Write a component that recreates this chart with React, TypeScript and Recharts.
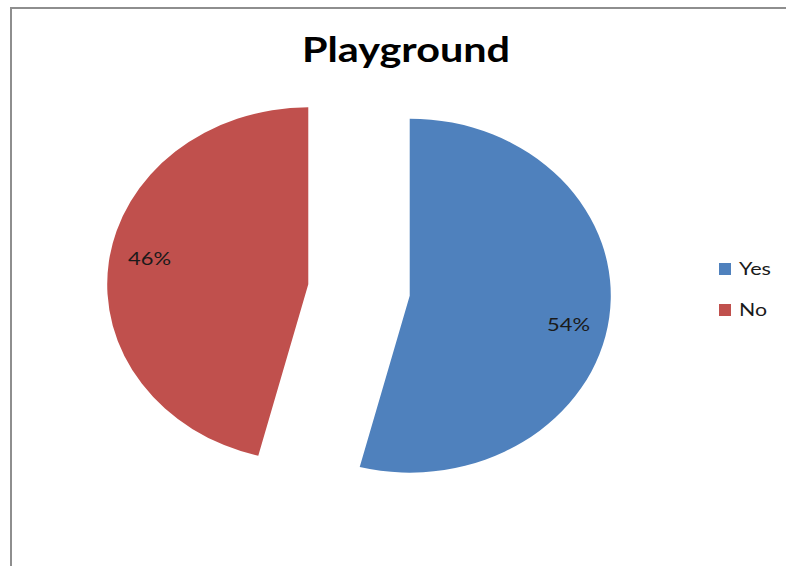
import React from 'react';
import { PieChart, Pie, Cell, Legend } from 'recharts';

const categories = ['Yes', 'No'];
const values = [54, 46];
const colors = ['#4F81BD', '#C0504D'];
const chartTitle = 'Playground';

const data = categories.map((name, i) => ({ name, value: values[i] }));

const SX = 1.136; // horizontal stretch of the pie (ellipse)
const EXPLODE = 45;
const RAD = Math.PI / 180;

function explodedCenter(cx: number, cy: number, midAngle: number) {
  return {
    ex: cx + EXPLODE * SX * Math.cos(-midAngle * RAD),
    ey: cy + EXPLODE * Math.sin(-midAngle * RAD),
  };
}

function EllipseSector(props: any) {
  const { cx, cy, outerRadius, startAngle, endAngle, midAngle, fill } = props;
  const { ex, ey } = explodedCenter(cx, cy, midAngle);
  const pt = (a: number) => [ex + SX * outerRadius * Math.cos(-a * RAD), ey + outerRadius * Math.sin(-a * RAD)];
  const [x1, y1] = pt(startAngle);
  const [x2, y2] = pt(endAngle);
  const large = Math.abs(startAngle - endAngle) > 180 ? 1 : 0;
  const sweep = startAngle > endAngle ? 1 : 0;
  const d = `M ${ex} ${ey} L ${x1} ${y1} A ${SX * outerRadius} ${outerRadius} 0 ${large} ${sweep} ${x2} ${y2} Z`;
  return <path d={d} fill={fill} stroke="none" />;
}

function renderLabel(props: any) {
  const { cx, cy, midAngle, percent } = props;
  const { ex, ey } = explodedCenter(cx, cy, midAngle);
  const x = ex + 160 * Math.cos(-midAngle * RAD);
  const y = ey + 219 * Math.sin(-midAngle * RAD) + 2;
  return (
    <text
      x={x}
      y={y + 6}
      textAnchor="middle"
      fill="#1a1a1a"
      fontFamily="Lato"
      fontSize={18}
      textLength={43}
      lengthAdjust="spacingAndGlyphs"
    >
      {`${Math.round(percent * 100)}%`}
    </text>
  );
}

function renderLegend(props: any) {
  const payload = [...(props.payload || [])].sort(
    (a: any, b: any) => categories.indexOf(a.value) - categories.indexOf(b.value)
  );
  return (
    <svg width={86} height={90}>
      {payload.map((entry: any, i: number) => (
        <g key={i}>
          <rect x={19} y={13 + i * 41} width={12} height={12} fill={entry.color} />
          <text
            x={39}
            y={25 + i * 41}
            fill="#1a1a1a"
            fontFamily="Lato"
            fontSize={17}
            textLength={entry.value === 'Yes' ? 32 : 28}
            lengthAdjust="spacingAndGlyphs"
          >
            {entry.value}
          </text>
        </g>
      ))}
    </svg>
  );
}

export default function App() {
  return (
    <div style={{ position: 'relative', width: 786, height: 566, overflow: 'hidden', background: '#fff' }}>
      <style>{`body{margin:0}`}</style>
      <div
        style={{
          position: 'absolute',
          left: 10,
          top: 7,
          width: 900,
          height: 700,
          borderLeft: '2px solid #8e8e8e',
          borderTop: '2px solid #8e8e8e',
        }}
      />
      <div style={{ position: 'absolute', left: 0, top: 0 }}>
        <PieChart width={786} height={566}>
          <text
            x={406}
            y={62}
            textAnchor="middle"
            fontFamily="Lato"
            fontWeight="bold"
            fontSize={35}
            fill="#000"
            textLength={208}
            lengthAdjust="spacingAndGlyphs"
          >
            {chartTitle}
          </text>
          <Pie
            data={data}
            dataKey="value"
            nameKey="name"
            cx={354}
            cy={285}
            outerRadius={177}
            startAngle={90}
            endAngle={-270}
            stroke="none"
            isAnimationActive={false}
            labelLine={false}
            label={renderLabel}
            shape={EllipseSector}
            activeShape={EllipseSector}
            inactiveShape={EllipseSector}
          >
            {data.map((d, i) => (
              <Cell key={d.name} fill={colors[i]} />
            ))}
          </Pie>
          <Legend
            content={renderLegend}
            wrapperStyle={{ position: 'absolute', left: 700, top: 250, width: 86, height: 90 }}
          />
        </PieChart>
      </div>
    </div>
  );
}
